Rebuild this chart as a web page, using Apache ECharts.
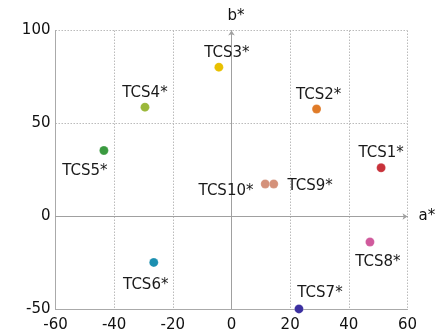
<!DOCTYPE html>
<html>
<head>
<meta charset="utf-8">
<script src="https://cdn.jsdelivr.net/npm/echarts@6/dist/echarts.min.js"></script>
<style>html,body{margin:0;padding:0;background:#fff}#c{width:444px;height:334px}</style>
</head>
<body>
<div id="c"></div>
<script>
var names = ['TCS1*','TCS2*','TCS3*','TCS4*','TCS5*','TCS6*','TCS7*','TCS8*','TCS9*','TCS10*'];
var aValues = [51, 29, -4.3, -29.5, -43.5, -26.5, 23, 47.2, 14.4, 11.5];
var bValues = [26.2, 57.8, 80.3, 58.8, 35.5, -24.7, -49.7, -13.7, 17.5, 17.5];
var colors = ['#c8323a','#e07b28','#e8c000','#9bb83a','#3a9a40','#1b8fb0','#3b2fa0','#d05a9c','#d4917a','#d4917a'];
var xTicks = [-60, -40, -20, 0, 20, 40, 60];
var yTicks = [-50, 0, 50, 100];

// label placement (style only)
var labelStyle = {
  'TCS1*': {position:'top', offset:[0,3]},
  'TCS2*': {position:'top', offset:[2,3]},
  'TCS3*': {position:'top', offset:[8,3]},
  'TCS4*': {position:'top', offset:[0,3]},
  'TCS5*': {position:'bottom', offset:[-19,3]},
  'TCS6*': {position:'bottom', offset:[-8,5]},
  'TCS7*': {position:'top', offset:[21,1]},
  'TCS8*': {position:'bottom', offset:[8,3]},
  'TCS9*': {position:'right', offset:[4,2]},
  'TCS10*': {position:'left', offset:[-2,7]}
};

var font = 'DejaVu Sans';
var data = names.map(function(n, i){
  var ls = labelStyle[n];
  return {
    name: n,
    value: [aValues[i], bValues[i]],
    itemStyle: {color: colors[i]},
    label: {show:true, formatter: n, position: ls.position, offset: ls.offset, distance: 5,
            color:'#1a1a1a', fontFamily: font, fontSize: 15}
  };
});

var chart = echarts.init(document.getElementById('c'));
chart.setOption({
  animation: false,
  grid: {left: 55.5, right: 36.5, top: 30.5, bottom: 24.5, containLabel: false},
  xAxis: [{
    type:'value', min: xTicks[0], max: xTicks[xTicks.length-1], interval: 20,
    axisLine:{show:true, onZero:false, lineStyle:{color:'#aaa', width:1}},
    axisTick:{show:false},
    axisLabel:{color:'#111', fontFamily:font, fontSize:15, margin:8},
    splitLine:{show:true, lineStyle:{color:'#bbb', type:[1.5,1.5], width:1}}
  },{
    type:'value', min: xTicks[0], max: xTicks[xTicks.length-1],
    axisLine:{show:true, onZero:true, onZeroAxisIndex:0, symbol:['none','arrow'], symbolSize:[5,5], lineStyle:{color:'#a0a0a0', width:1}},
    axisTick:{show:false}, axisLabel:{show:false}, splitLine:{show:false},
    name:'a*', nameLocation:'end', nameGap:11,
    nameTextStyle:{color:'#111', fontFamily:font, fontSize:15}
  }],
  yAxis: [{
    type:'value', min: yTicks[0], max: yTicks[yTicks.length-1], interval: 50,
    axisLine:{show:true, onZero:false, lineStyle:{color:'#aaa', width:1}},
    axisTick:{show:false},
    axisLabel:{color:'#111', fontFamily:font, fontSize:15, margin:5},
    splitLine:{show:true, lineStyle:{color:'#bbb', type:[1.5,1.5], width:1}}
  },{
    type:'value', min: yTicks[0], max: yTicks[yTicks.length-1],
    axisLine:{show:true, onZero:true, onZeroAxisIndex:0, symbol:['none','arrow'], symbolSize:[5,5], lineStyle:{color:'#a0a0a0', width:1}},
    axisTick:{show:false}, axisLabel:{show:false}, splitLine:{show:false},
    name:'b*', nameLocation:'end', nameGap:7,
    nameTextStyle:{color:'#111', fontFamily:font, fontSize:15, align:'left', padding:[0,0,0,-4]}
  }],
  series: [{
    type:'scatter', xAxisIndex:0, yAxisIndex:0,
    symbolSize: 9,
    itemStyle:{opacity:1, borderColor:'rgba(255,255,255,0.4)', borderWidth:0.5},
    data: data
  }]
});
</script>
</body>
</html>
